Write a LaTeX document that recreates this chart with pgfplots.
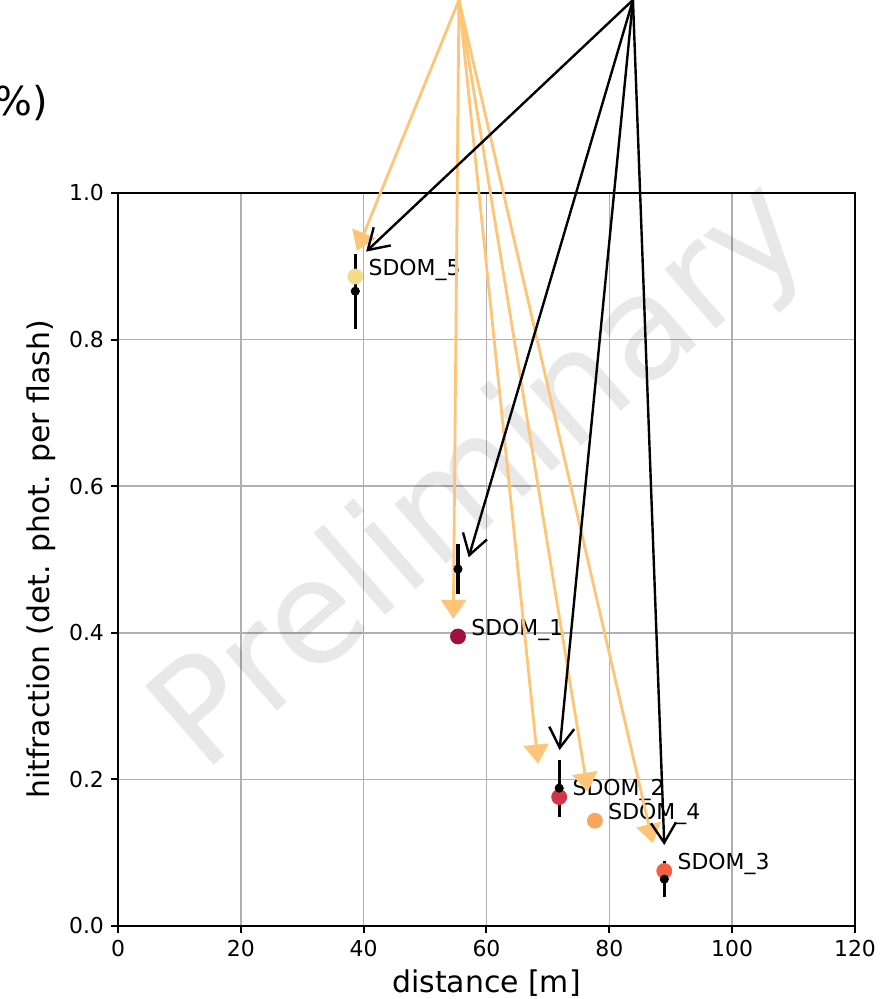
\documentclass[border=0pt]{standalone}
\usepackage{pgfplots}
\pgfplotsset{compat=1.18}
\usepackage{fontspec}
\setmainfont{DejaVu Sans}
\usetikzlibrary{arrows.meta}
\definecolor{sdA}{RGB}{160,16,64}
\definecolor{sdB}{RGB}{211,52,74}
\definecolor{sdC}{RGB}{240,96,67}
\definecolor{sdD}{RGB}{248,166,92}
\definecolor{sdE}{RGB}{246,220,135}
\definecolor{arrorange}{RGB}{254,196,119}
\definecolor{gridgray}{RGB}{176,176,176}

\pgfplotstableread{
x y e
38.64 0.866 0.051
55.36 0.487 0.034
71.84 0.188 0.039
88.95 0.064 0.024
}\blackpts

\begin{document}
\begin{tikzpicture}
\begin{axis}[
  scale only axis, width=368.5bp, height=366.5bp,
  xmin=0, xmax=120, ymin=0, ymax=1,
  xtick={0,20,40,60,80,100,120},
  ytick={0,0.2,0.4,0.6,0.8,1},
  /pgf/number format/assume math mode=true,
  yticklabel style={/pgf/number format/.cd, fixed, fixed zerofill, precision=1},
  tick label style={font=\fontsize{11}{13}\selectfont},
  label style={font=\fontsize{15}{18}\selectfont},
  xlabel={distance [m]},
  ylabel={hitfraction (det. phot. per flash)},
  grid=major,
  grid style={gridgray, line width=0.8bp},
  axis line style={line width=1bp},
  tick style={black, line width=1bp},
  tick align=outside,
  major tick length=3.5bp,
  xtick pos=left, ytick pos=left,
  clip=false,
]
% watermark
\node[rotate=41, font=\fontsize{72}{72}\selectfont, text=black, opacity=0.09] at (axis cs:59.5,0.61) {Preliminary};

% error bars with black marks
\addplot[only marks, black, mark=*, mark size=2bp,
  error bars/.cd, y dir=both, y explicit, error mark=none,
  error bar style={line width=1.7bp, black}]
  table[x=x, y=y, y error=e] {\blackpts};

% coloured points
\addplot[only marks, mark=*, mark size=3.75bp, color=sdA] coordinates {(55.36,0.395)};
\addplot[only marks, mark=*, mark size=3.75bp, color=sdB] coordinates {(71.84,0.176)};
\addplot[only marks, mark=*, mark size=3.75bp, color=sdC] coordinates {(88.95,0.075)};
\addplot[only marks, mark=*, mark size=3.75bp, color=sdD] coordinates {(77.66,0.1436)};
\addplot[only marks, mark=*, mark size=3.75bp, color=sdE] coordinates {(38.64,0.886)};

% black marks on top
\addplot[only marks, black, mark=*, mark size=2bp] table[x=x, y=y] {\blackpts};

% labels
\node[anchor=west, inner sep=0pt, xshift=6.5bp, yshift=3.5bp, font=\fontsize{11}{13}\selectfont] at (axis cs:38.64,0.886) {SDOM\_5};
\node[anchor=west, inner sep=0pt, xshift=6.5bp, yshift=3.5bp, font=\fontsize{11}{13}\selectfont] at (axis cs:55.36,0.395) {SDOM\_1};
\node[anchor=west, inner sep=0pt, xshift=6.5bp, yshift=3.5bp, font=\fontsize{11}{13}\selectfont] at (axis cs:71.84,0.176) {SDOM\_2};
\node[anchor=west, inner sep=0pt, xshift=6.5bp, yshift=3.5bp, font=\fontsize{11}{13}\selectfont] at (axis cs:77.66,0.1436) {SDOM\_4};
\node[anchor=west, inner sep=0pt, xshift=6.5bp, yshift=3.5bp, font=\fontsize{11}{13}\selectfont] at (axis cs:88.95,0.075) {SDOM\_3};

% orange arrows
\addplot[arrorange, line width=1.4bp, -{Triangle[length=9.5bp,width=12.5bp]}] coordinates {(55.52,1.2633) (38.9,0.921)};
\addplot[arrorange, line width=1.4bp, -{Triangle[length=9.5bp,width=12.5bp]}] coordinates {(55.52,1.2633) (54.6,0.419)};
\addplot[arrorange, line width=1.4bp, -{Triangle[length=9.5bp,width=12.5bp]}] coordinates {(55.52,1.2633) (68.4,0.2215)};
\addplot[arrorange, line width=1.4bp, -{Triangle[length=9.5bp,width=12.5bp]}] coordinates {(55.52,1.2633) (76.5,0.183)};
\addplot[arrorange, line width=1.4bp, -{Triangle[length=9.5bp,width=12.5bp]}] coordinates {(55.52,1.2633) (87.1,0.113)};

% black arrows
\addplot[black, line width=1.2bp, -{Straight Barb[length=10bp,width=12.5bp]}] coordinates {(83.85,1.2633) (40.4,0.920)};
\addplot[black, line width=1.2bp, -{Straight Barb[length=10bp,width=12.5bp]}] coordinates {(83.85,1.2633) (57.1,0.503)};
\addplot[black, line width=1.2bp, -{Straight Barb[length=10bp,width=12.5bp]}] coordinates {(83.85,1.2633) (71.9,0.240)};
\addplot[black, line width=1.2bp, -{Straight Barb[length=10bp,width=12.5bp]}] coordinates {(83.85,1.2633) (88.95,0.1105)};

% cut-off text at top left
\node[anchor=east, inner sep=0pt, font=\fontsize{20}{24}\selectfont] at (axis cs:-11.4,1.1228) {\%)};

\coordinate (bbA) at (axis cs:-19.21,1.2633);
\coordinate (bbB) at (axis cs:124.72,-0.0996);
\end{axis}
\pgfresetboundingbox
\path[use as bounding box] (bbA) rectangle (bbB);
\end{tikzpicture}
\end{document}
